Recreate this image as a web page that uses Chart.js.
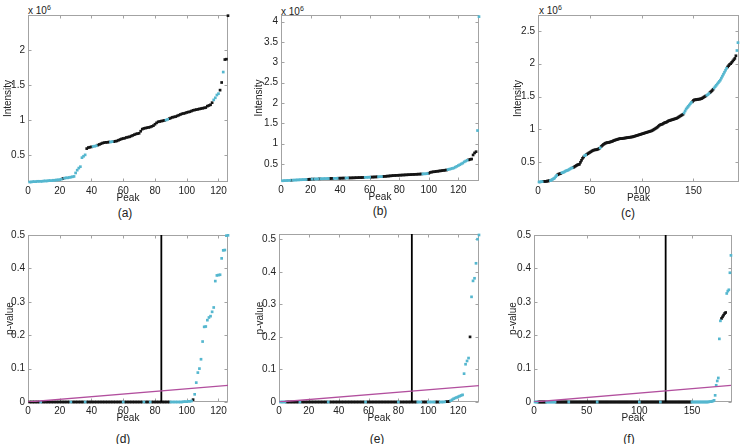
<!DOCTYPE html>
<html><head><meta charset="utf-8">
<script src="https://cdn.jsdelivr.net/npm/chart.js@4.4.0/dist/chart.umd.min.js"></script>
<style>
html,body{margin:0;padding:0;background:#fff;}
#wrap{position:relative;width:742px;height:444px;overflow:hidden;font-family:"Liberation Sans",Arial,sans-serif;color:#222;}
.panel{position:absolute;}
.cap{position:absolute;width:40px;text-align:center;font-size:12px;line-height:14px;}
.exp{position:absolute;font-size:10px;line-height:12px;white-space:nowrap;}
.exp sup{font-size:7px;line-height:7px;vertical-align:0;position:relative;top:-4px;}
</style></head><body><div id="wrap">
<div class="exp" style="left:28px;top:5px">x 10<sup>6</sup></div>
<div class="exp" style="left:281px;top:6px">x 10<sup>6</sup></div>
<div class="exp" style="left:539px;top:5px">x 10<sup>6</sup></div>
<div class="cap" style="left:105px;top:206px">(a)</div>
<div class="cap" style="left:360px;top:204px">(b)</div>
<div class="cap" style="left:608px;top:206px">(c)</div>
<div class="cap" style="left:103px;top:432px">(d)</div>
<div class="cap" style="left:357px;top:432px">(e)</div>
<div class="cap" style="left:609px;top:432px">(f)</div>
</div>
<script>
// ---------- DATA (intensities in units of 10^6; index = peak number 1..N) ----------
const intensityA = [
0.110,0.110,0.115,0.115,0.115,0.120,0.120,0.120,0.120,0.125,
0.125,0.125,0.130,0.130,0.130,0.135,0.135,0.140,0.140,0.145,
0.150,0.160,0.165,0.170,0.170,0.175,0.180,0.185,0.190,0.240,
0.280,0.310,0.330,0.460,0.480,0.500,0.590,0.605,0.610,0.615,
0.620,0.625,0.630,0.640,0.650,0.660,0.670,0.675,0.680,0.680,
0.685,0.685,0.690,0.690,0.695,0.700,0.710,0.720,0.730,0.735,
0.740,0.750,0.755,0.760,0.770,0.780,0.790,0.800,0.805,0.810,
0.840,0.870,0.880,0.885,0.890,0.895,0.900,0.910,0.920,0.940,
0.960,0.975,0.980,0.985,0.990,0.995,1.000,1.010,1.020,1.030,
1.040,1.045,1.050,1.060,1.070,1.080,1.090,1.095,1.100,1.110,
1.115,1.120,1.130,1.140,1.145,1.150,1.155,1.160,1.165,1.170,
1.175,1.180,1.200,1.210,1.220,1.250,1.290,1.320,1.360,1.380,
1.430,1.540,1.690,1.870,1.875,2.500];
const cyanA = [[1,21],[23,36],[41,43],[52,53],[87,88],[117,120],[123,123]];

const intensityB = [
0.085,0.088,0.090,0.092,0.094,0.096,0.098,0.100,0.102,0.104,
0.106,0.108,0.110,0.112,0.114,0.116,0.118,0.120,0.122,0.124,
0.126,0.128,0.130,0.131,0.132,0.134,0.135,0.136,0.138,0.139,
0.140,0.141,0.142,0.143,0.144,0.145,0.146,0.147,0.148,0.149,
0.150,0.151,0.152,0.153,0.154,0.155,0.156,0.157,0.158,0.160,
0.161,0.162,0.164,0.165,0.166,0.168,0.170,0.171,0.172,0.174,
0.175,0.177,0.178,0.180,0.182,0.184,0.186,0.188,0.190,0.193,
0.196,0.200,0.203,0.206,0.210,0.213,0.216,0.218,0.220,0.222,
0.224,0.226,0.228,0.230,0.232,0.234,0.236,0.238,0.240,0.242,
0.244,0.246,0.248,0.250,0.252,0.254,0.256,0.258,0.262,0.270,
0.290,0.300,0.305,0.310,0.315,0.320,0.325,0.330,0.335,0.340,
0.345,0.350,0.360,0.370,0.380,0.390,0.400,0.420,0.440,0.460,
0.480,0.500,0.520,0.550,0.570,0.590,0.600,0.610,0.620,0.720,
0.770,0.800,1.320,4.120];
const cyanB = [[1,6],[8,17],[21,21],[23,25],[27,32],[36,38],[44,45],[57,60],[66,68],[96,99],[113,126],[133,134]];

const intensityC = [
0.200,0.200,0.205,0.205,0.210,0.210,0.210,0.210,0.215,0.215,
0.220,0.220,0.230,0.240,0.250,0.260,0.280,0.300,0.310,0.320,
0.325,0.330,0.340,0.345,0.350,0.360,0.370,0.375,0.380,0.390,
0.400,0.410,0.415,0.420,0.430,0.440,0.450,0.460,0.465,0.470,
0.500,0.530,0.560,0.580,0.600,0.610,0.620,0.630,0.640,0.650,
0.660,0.670,0.680,0.685,0.690,0.690,0.695,0.700,0.710,0.720,
0.740,0.755,0.770,0.780,0.790,0.795,0.800,0.800,0.805,0.810,
0.815,0.820,0.830,0.835,0.840,0.845,0.850,0.855,0.860,0.860,
0.860,0.865,0.865,0.870,0.870,0.875,0.875,0.880,0.880,0.885,
0.885,0.890,0.895,0.900,0.905,0.910,0.915,0.920,0.925,0.930,
0.935,0.940,0.945,0.950,0.955,0.960,0.965,0.970,0.975,0.980,
0.990,1.000,1.010,1.020,1.030,1.045,1.060,1.070,1.075,1.080,
1.090,1.100,1.105,1.110,1.120,1.130,1.135,1.140,1.145,1.150,
1.155,1.160,1.165,1.170,1.180,1.190,1.200,1.210,1.220,1.230,
1.250,1.280,1.310,1.330,1.350,1.370,1.390,1.410,1.420,1.440,
1.450,1.450,1.455,1.455,1.460,1.460,1.465,1.470,1.480,1.490,
1.500,1.510,1.520,1.530,1.545,1.560,1.575,1.590,1.610,1.630,
1.650,1.670,1.690,1.710,1.730,1.750,1.780,1.810,1.840,1.870,
1.900,1.930,1.950,1.970,1.990,2.000,2.020,2.040,2.060,2.080,
2.120,2.200,2.320];
const cyanC = [[1,4],[12,18],[23,33],[45,46],[60,60],[141,148],[163,165],[170,182],[192,193]];

// p-values (sorted), same peaks as above
const pValueD = [
0,0,0,0,0,0,0,0,0,0,
0,0,0,0,0,0,0,0,0,0,
0,0,0,0,0,0,0,0,0,0,
0,0,0,0,0,0,0,0,0,0,
0,0,0,0,0,0,0,0,0,0,
0,0,0,0,0,0,0,0,0,0,
0,0,0,0,0,0,0,0,0,0,
0,0,0,0,0,0,0,0,0,0,
0,0,0,0,0,0,0,0,0,0,
0,0,0,0,0,0,0,0.001,0.001,0.001,
0.002,0.002,0.003,0.007,0.023,0.058,0.088,0.100,0.128,0.181,
0.225,0.226,0.245,0.253,0.257,0.270,0.283,0.362,0.379,0.380,
0.381,0.430,0.454,0.455,0.498,0.499];
const cyanD = [[8,8],[27,27],[36,36],[60,60],[73,73],[77,77],[90,103],[105,126]];

const pValueE = [
0,0,0,0,0,0,0,0,0,0,
0,0,0,0,0,0,0,0,0,0,
0,0,0,0,0,0,0,0,0,0,
0,0,0,0,0,0,0,0,0,0,
0,0,0,0,0,0,0,0,0,0,
0,0,0,0,0,0,0,0,0,0,
0,0,0,0,0,0,0,0,0,0,
0,0,0,0,0,0,0,0,0,0,
0,0,0,0,0,0,0,0,0,0,
0,0,0,0,0,0,0,0,0,0,
0,0,0,0,0,0,0,0,0,0,
0.0005,0.001,0.001,0.002,0.004,0.007,0.010,0.012,0.014,0.016,
0.018,0.020,0.022,0.087,0.116,0.126,0.135,0.200,0.323,0.372,
0.380,0.426,0.500,0.513];
const cyanE = [[1,4],[14,14],[33,33],[58,58],[80,80],[93,95],[100,104],[108,111],[115,127],[129,134]];

const pValueF = [
0,0,0,0,0,0,0,0,0,0,
0,0,0,0,0,0,0,0,0,0,
0,0,0,0,0,0,0,0,0,0,
0,0,0,0,0,0,0,0,0,0,
0,0,0,0,0,0,0,0,0,0,
0,0,0,0,0,0,0,0,0,0,
0,0,0,0,0,0,0,0,0,0,
0,0,0,0,0,0,0,0,0,0,
0,0,0,0,0,0,0,0,0,0,
0,0,0,0,0,0,0,0,0,0,
0,0,0,0,0,0,0,0,0,0,
0,0,0,0,0,0,0,0,0,0,
0,0,0,0,0,0,0,0,0,0,
0,0,0,0,0,0,0,0,0,0,
0,0,0,0,0,0,0,0,0,0,
0,0,0,0,0,0,0,0,0,0,
0,0,0,0,0,0.0005,0.001,0.001,0.002,0.003,
0.005,0.020,0.050,0.063,0.072,0.189,0.243,0.250,0.255,0.260,
0.265,0.268,0.325,0.332,0.336,0.387,0.439];
const cyanF = [[1,3],[12,20],[33,33],[60,60],[100,100],[120,120],[150,177],[183,187]];

// significance cut-offs (peak index) and FDR level
const cutoffD = 84, cutoffE = 89, cutoffF = 125;
const alpha = 0.05;

// tick labels
const xTicks20 = [0,20,40,60,80,100,120];
const xTicks50 = [0,50,100,150];
const yTicksA = [0.5,1,1.5,2];
const yTicksB = [0.5,1,1.5,2,2.5,3,3.5,4];
const yTicksC = [0.5,1,1.5,2,2.5];
const yTicksP = [0,0.1,0.2,0.3,0.4,0.5];

// ---------- RENDERING ----------
const FONT = "'Liberation Sans', Arial, sans-serif";
const BLACK = '#141414', CYAN = '#55b7cf', BOX = '#a3a3a3', TXT = '#222';

const panels = [
  {values:intensityA, cyan:cyanA, xMax:126, yMin:0.11, yMax:2.51, xTicks:xTicks20, yTicks:yTicksA, yTitle:'Intensity', plot:{l:28,t:15,w:200,h:167}, cl:2},
  {values:intensityB, cyan:cyanB, xMax:134, yMin:0.08, yMax:4.16, xTicks:xTicks20, yTicks:yTicksB, yTitle:'Intensity', plot:{l:281,t:15,w:198,h:166}, cl:253},
  {values:intensityC, cyan:cyanC, xMax:194, yMin:0.2, yMax:2.74, xTicks:xTicks50, yTicks:yTicksC, yTitle:'Intensity', plot:{l:538,t:15,w:201,h:167}, cl:512},
  {values:pValueD, cyan:cyanD, cutoff:cutoffD, xMax:126, yMin:0, yMax:0.5, xTicks:xTicks20, yTicks:yTicksP, yTitle:'p-value', plot:{l:28,t:235,w:200,h:167}, cl:4},
  {values:pValueE, cyan:cyanE, cutoff:cutoffE, xMax:134, yMin:0, yMax:0.516, xTicks:xTicks20, yTicks:yTicksP, yTitle:'p-value', plot:{l:279,t:234,w:200,h:168}, cl:254},
  {values:pValueF, cyan:cyanF, cutoff:cutoffF, xMax:188, yMin:0, yMax:0.5, xTicks:xTicks50, yTicks:yTicksP, yTitle:'p-value', plot:{l:534,t:235,w:198,h:167}, cl:507}
];

function isCyan(ranges, i){ return ranges.some(r => i >= r[0] && i <= r[1]); }

const boxPlugin = {
  id:'matlabBox',
  beforeDatasetsDraw(chart){
    const {ctx, chartArea:a, scales} = chart;
    const L = Math.round(a.left)+0.5, R = Math.round(a.right)-0.5, T = Math.round(a.top)+0.5, B = Math.round(a.bottom)-0.5;
    ctx.save();
    ctx.strokeStyle = BOX; ctx.lineWidth = 1;
    ctx.strokeRect(L, T, R-L, B-T);
    ctx.beginPath();
    const tl = 3;
    scales.x.ticks.forEach(t => {
      const px = Math.round(scales.x.getPixelForValue(t.value))+0.5;
      ctx.moveTo(px, B); ctx.lineTo(px, B-tl);
      ctx.moveTo(px, T); ctx.lineTo(px, T+tl);
    });
    scales.y.ticks.forEach(t => {
      const py = Math.round(scales.y.getPixelForValue(t.value))+0.5;
      ctx.moveTo(L, py); ctx.lineTo(L+tl, py);
      ctx.moveTo(R, py); ctx.lineTo(R-tl, py);
    });
    ctx.stroke();
    ctx.restore();
  }
};

const wrap = document.getElementById('wrap');

panels.forEach(p => {
  const padL = p.plot.l - p.cl, padT = 10, padR = 6, padB = 22;
  const W = padL + p.plot.w + padR, H = padT + p.plot.h + padB;
  const div = document.createElement('div');
  div.className = 'panel';
  div.style.left = p.cl + 'px';
  div.style.top = (p.plot.t - padT) + 'px';
  div.style.width = W + 'px';
  div.style.height = H + 'px';
  const cv = document.createElement('canvas');
  cv.width = W; cv.height = H;
  cv.style.width = W + 'px'; cv.style.height = H + 'px';
  div.appendChild(cv);
  wrap.appendChild(div);

  const blackPts = [], cyanPts = [];
  p.values.forEach((v, i) => {
    const x = i + 1;
    (isCyan(p.cyan, x) ? cyanPts : blackPts).push({x:x, y:v});
  });

  const datasets = [];
  datasets.push({data:blackPts, backgroundColor:BLACK, borderWidth:0, pointStyle:'rect', pointRadius:1.9, clip:false, order:2});
  datasets.push({data:cyanPts, backgroundColor:CYAN, borderWidth:0, pointStyle:'rect', pointRadius:1.9, clip:false, order:1});
  if (p.cutoff != null) {
    datasets.push({data:[{x:0,y:0},{x:p.values.length,y:alpha}], showLine:true, borderColor:'#b24f9e', borderWidth:1.3, pointRadius:0, order:0});
    datasets.push({data:[{x:p.cutoff,y:p.yMin},{x:p.cutoff,y:p.yMax}], showLine:true, borderColor:'#000', borderWidth:1.8, pointRadius:0, order:0});
  }

  const tickFont = {family:FONT, size:10};
  new Chart(cv, {
    type:'scatter',
    data:{datasets},
    plugins:[boxPlugin],
    options:{
      responsive:false, animation:false, devicePixelRatio:1, events:[],
      layout:{padding:{top:padT, right:padR, left:0, bottom:0}},
      plugins:{legend:{display:false}, tooltip:{enabled:false}},
      scales:{
        x:{type:'linear', min:0, max:p.xMax, bounds:'data',
           grid:{display:false, drawTicks:false}, border:{display:false},
           afterBuildTicks:s => { s.ticks = p.xTicks.map(v => ({value:v})); },
           afterFit:s => { s.height = padB; },
           ticks:{padding:3, color:TXT, font:tickFont, maxRotation:0, autoSkip:false, callback:v => String(v)},
           title:{display:true, text:'Peak', color:TXT, font:tickFont, padding:0}},
        y:{type:'linear', min:p.yMin, max:p.yMax, bounds:'data',
           grid:{display:false, drawTicks:false}, border:{display:false},
           afterBuildTicks:s => { s.ticks = p.yTicks.map(v => ({value:v})); },
           afterFit:s => { s.width = padL; },
           ticks:{padding:3, color:TXT, font:tickFont, autoSkip:false, callback:v => String(v)},
           title:{display:true, text:p.yTitle, color:TXT, font:tickFont, padding:0}}
      }
    }
  });
});
</script>
</body></html>
